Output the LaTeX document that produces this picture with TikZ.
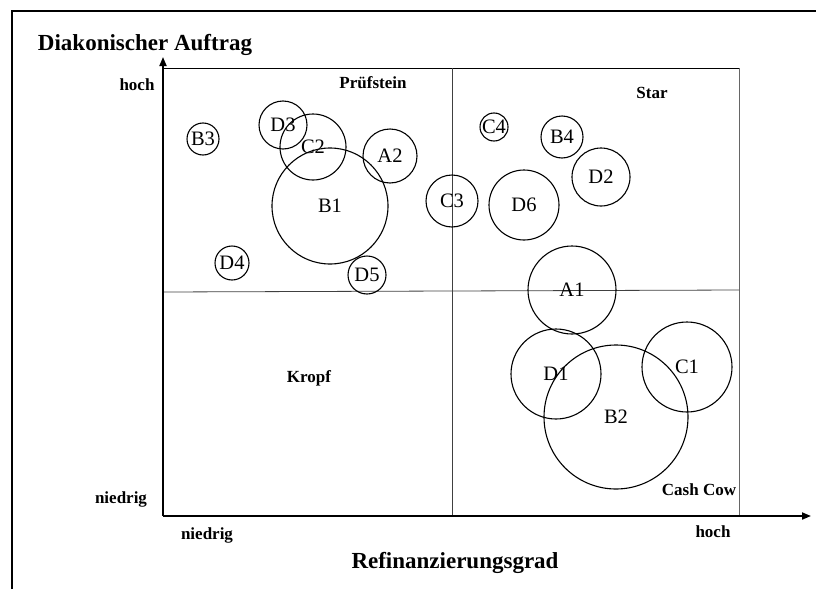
\documentclass[tikz,border=0pt]{standalone}
\usepackage{fontspec}
\setmainfont{Liberation Serif}
\usetikzlibrary{arrows.meta}
\begin{document}
\begin{tikzpicture}[x=1pt,y=-1pt,
  bubble/.style={circle,draw,line width=1.1pt,inner sep=0pt},
  bublabel/.style={font=\fontsize{20.5}{20.5}\selectfont},
  small/.style={font=\bfseries\fontsize{17}{17}\selectfont,inner sep=0pt},
  big/.style={font=\bfseries\fontsize{23}{23}\selectfont,inner sep=0pt},
  axis/.style={line width=1.8pt,-{Triangle[length=9pt,width=7pt]}},
  thinline/.style={line width=0.8pt,draw=black!75}]
\useasboundingbox (0,0) rectangle (816,589);
% outer frame
\coordinate (f1) at (12,589);
\coordinate (f2) at (12,11);
\coordinate (f3) at (816,11);
\draw[line width=2pt] (f1) -- (f2) -- (f3);
% plot box
\coordinate (O) at (163,516);
\coordinate (Ytip) at (163,57);
\coordinate (Xtip) at (811,516);
\coordinate (TL) at (163,68);
\coordinate (TR) at (739,68);
\coordinate (BR) at (739,516);
\coordinate (MT) at (452,68);
\coordinate (MB) at (452,516);
\coordinate (ML) at (163,292);
\coordinate (MR) at (739,290);
\draw[line width=1pt] (TL) -- (TR);
\draw[thinline,draw=black!60] (TR) -- (BR);
\draw[thinline] (MT) -- (MB);
\draw[thinline] (ML) -- (MR);
\draw[axis] (O) -- (Ytip);
\draw[axis] (O) -- (Xtip);
% labels
\node[big] (ylab) at (145,45) {Diakonischer Auftrag};
\node[big] (xlab) at (455,563) {Refinanzierungsgrad};
\node[small] (yhoch) at (137,85) {hoch};
\node[small] (yniedrig) at (121,499) {niedrig};
\node[small] (xniedrig) at (207,535) {niedrig};
\node[small] (xhoch) at (713,532) {hoch};
\node[small] (pruef) at (373,83) {Prüfstein};
\node[small] (star) at (652,93) {Star};
\node[small] (kropf) at (309,378) {Kropf};
\node[small] (cash) at (699,490) {Cash Cow};
% bubbles
\foreach \n/\x/\y/\r in {B3/203/139/16, D3/283/125/24, C2/313/147/33, A2/390/156/27,
  B1/330/206/58, D4/232/263/17, D5/367/275/19, C3/452/201/26, C4/494/127/14,
  B4/562/137/21, D2/601/177/29, D6/524/205/35, A1/572/290/44, D1/556/374/45,
  B2/616/417/72, C1/687/367/45}
{
  \node[bubble,minimum size=2*\r pt,label={[bublabel]center:\n}] (\n) at (\x,\y) {};
}
\end{tikzpicture}
\end{document}
